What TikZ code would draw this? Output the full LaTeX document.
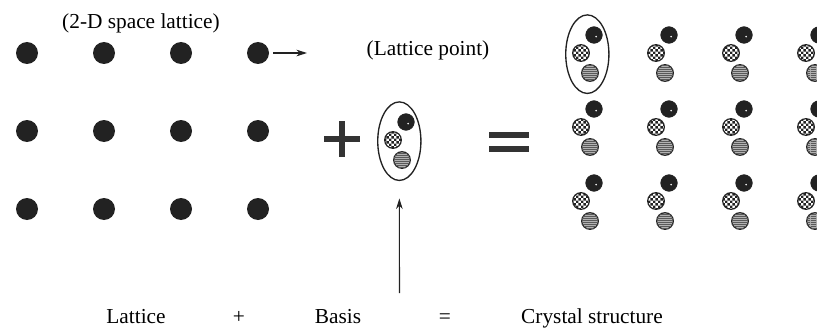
\documentclass[tikz,border=0pt]{standalone}
\usepackage{fontspec}
\setmainfont{Liberation Serif}
\usetikzlibrary{arrows.meta,shapes.geometric,fit,patterns.meta}
\usepackage{xcolor}
\definecolor{atomdark}{HTML}{222222}
\definecolor{signdark}{HTML}{333333}

\tikzdeclarepattern{
  name=finechecker,
  type=uncolored,
  bottom left={(0pt,0pt)},
  top right={(3.6pt,3.6pt)},
  tile size={(3.6pt,3.6pt)},
  code={
    \fill (0pt,0pt) rectangle (1.8pt,1.8pt);
    \fill (1.8pt,1.8pt) rectangle (3.6pt,3.6pt);
  }
}
\tikzdeclarepattern{
  name=finestripes,
  type=uncolored,
  bottom left={(0pt,0pt)},
  top right={(4pt,1.7pt)},
  tile size={(4pt,1.7pt)},
  code={
    \fill (0pt,0pt) rectangle (4pt,0.75pt);
  }
}

\begin{document}
\begin{tikzpicture}[
    x=0.75pt, y=-0.75pt,
    every node/.style={font=\fontsize{16}{19}\selectfont},
    latdot/.style={circle, fill=atomdark, minimum size=16.5pt, inner sep=0pt},
    blackatom/.style={circle, fill=atomdark, draw=atomdark, minimum size=12.5pt,
                      inner sep=0pt,
                      path picture={\fill[white]
                        ([shift={(1.6pt,-1.2pt)}]path picture bounding box.center)
                        circle (0.7pt);}},
    checkatom/.style={circle, draw=atomdark, line width=0.9pt, minimum size=12.5pt,
                      inner sep=0pt, pattern=finechecker, pattern color=atomdark},
    stripeatom/.style={circle, draw=atomdark, line width=0.9pt, fill=gray!60,
                       minimum size=12.5pt, inner sep=0pt,
                       postaction={pattern=finestripes, pattern color=black!65}},
    ring/.style={ellipse, draw=atomdark, line width=1pt, inner sep=0pt},
    bigsign/.style={signdark, line width=5pt},
    ptr/.style={-{Stealth[length=8pt, width=5pt]}, atomdark, line width=0.8pt},
]

\useasboundingbox (0,0) rectangle (817,328);

% ── 2-D space lattice ───────────────────────────────────────────
\foreach \i in {1,...,4}{
  \foreach \j in {1,2,3}{
    \node[latdot] (l-\j-\i) at ({27+77*(\i-1)},{53+78*(\j-1)}) {};
  }
}
\node (lat-title) at (141,23) {(2-D space lattice)};

\coordinate (lp-tip) at (307,53);
\draw[ptr, shorten <=3pt] (l-1-4) -- (lp-tip);
\node (lp-label) at (428,50) {(Lattice point)};

% ── Plus ────────────────────────────────────────────────────────
\draw[bigsign] (324,139) -- (360,139) (342,121) -- (342,157);

% ── Basis ───────────────────────────────────────────────────────
\node[checkatom] (b-chk) at (393,140) {};
\node[blackatom] (b-blk) at (406,122) {};
\node[stripeatom] (b-str) at (402,160) {};
\node[ring, fit=(b-chk)(b-blk)(b-str)] (b-ring) {};

\coordinate (b-foot) at (399.5,293);
\draw[ptr, shorten >=13pt] (b-foot) -- (b-ring.south);

% ── Equals ──────────────────────────────────────────────────────
\draw[bigsign] (489,135) -- (529,135) (489,149) -- (529,149);

% ── Crystal structure ───────────────────────────────────────────
\foreach \i in {1,...,4}{
  \foreach \j in {1,2,3}{
    \node[checkatom] (c-\j-\i-chk) at ({581+75*(\i-1)},{53+74*(\j-1)}) {};
    \node[blackatom] (c-\j-\i-blk) at ({594+75*(\i-1)},{35+74*(\j-1)}) {};
    \node[stripeatom] (c-\j-\i-str) at ({590+75*(\i-1)},{73+74*(\j-1)}) {};
  }
}
\node[ring, fit=(c-1-1-chk)(c-1-1-blk)(c-1-1-str)] (c-ring) {};

% ── Bottom labels ───────────────────────────────────────────────
\node[anchor=base] (t-lat) at (136,323) {Lattice};
\node[anchor=base] (t-plus) at (239,323) {+};
\node[anchor=base] (t-basis) at (338,323) {Basis};
\node[anchor=base] (t-eq) at (445,323) {=};
\node[anchor=base] (t-crys) at (592,323) {Crystal structure};

\end{tikzpicture}
\end{document}
